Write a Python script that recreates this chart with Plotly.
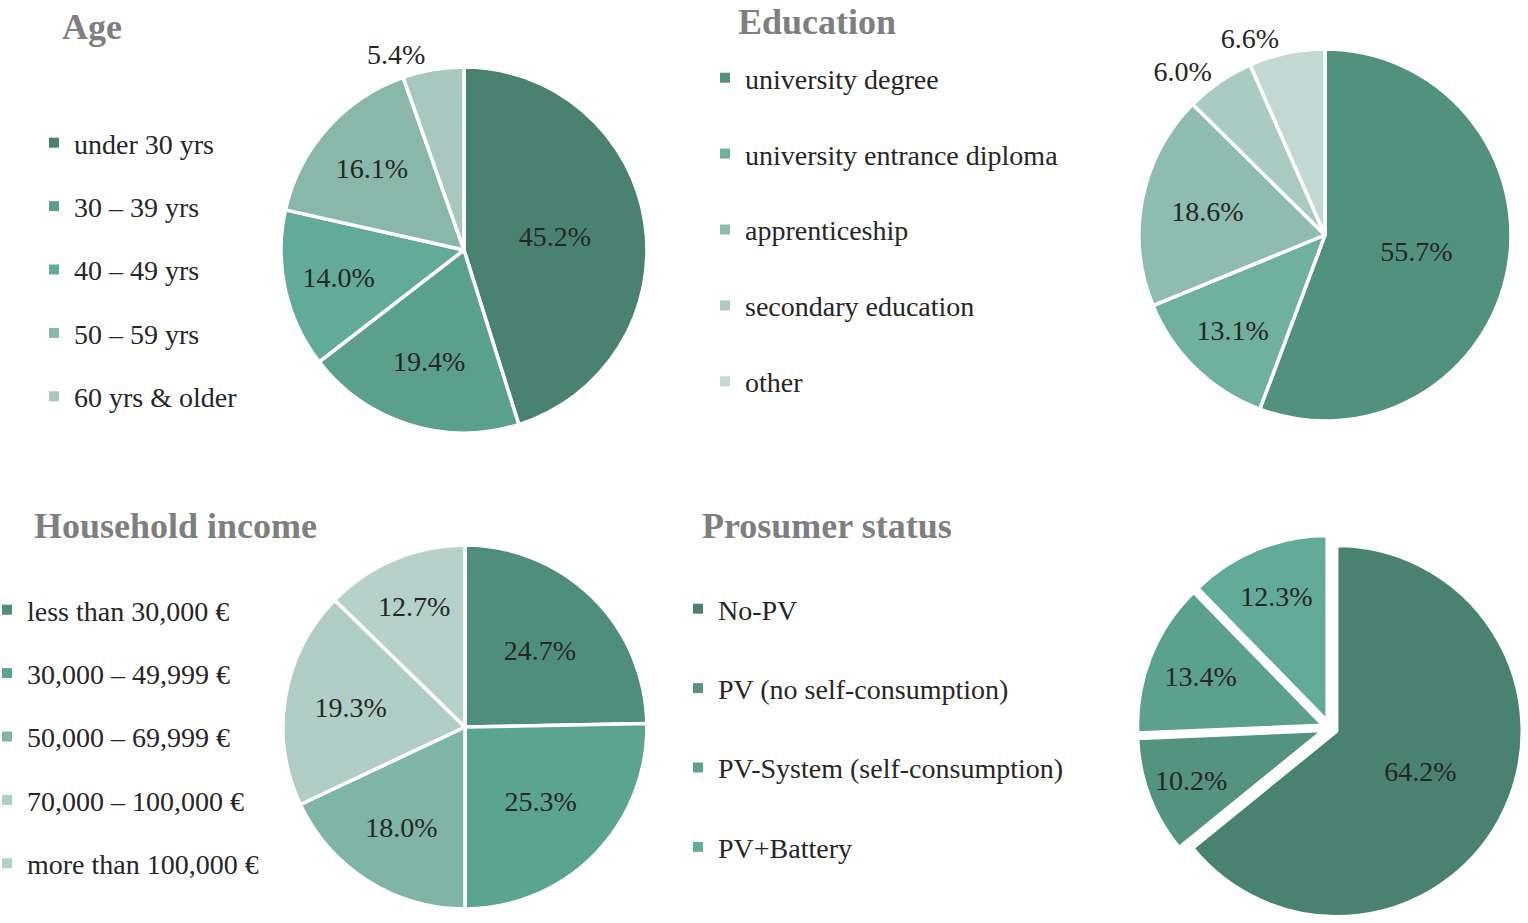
import plotly.graph_objects as go

# Age
age_labels = ['under 30 yrs', '30 – 39 yrs', '40 – 49 yrs', '50 – 59 yrs', '60 yrs & older']
age_values = [45.2, 19.4, 14.0, 16.1, 5.4]
age_colors = ['#4a8272', '#5ba08d', '#62ab98', '#89b8aa', '#a8c8bf']

# Education
edu_labels = ['university degree', 'university entrance diploma', 'apprenticeship',
              'secondary education', 'other']
edu_values = [55.7, 13.1, 18.6, 6.0, 6.6]
edu_colors = ['#51917e', '#6fb09e', '#8fbcb0', '#a9cbc1', '#c1d9d2']

# Household income
inc_labels = ['less than 30,000 €', '30,000 – 49,999 €', '50,000 – 69,999 €',
              '70,000 – 100,000 €', 'more than 100,000 €']
inc_values = [24.7, 25.3, 18.0, 19.3, 12.7]
inc_colors = ['#4f8e7c', '#5ba590', '#7fb5a7', '#b0cec5', '#b5d1c9']

# Prosumer status
pro_labels = ['No-PV', 'PV (no self-consumption)', 'PV-System (self-consumption)', 'PV+Battery']
pro_values = [64.2, 10.2, 13.4, 12.3]
pro_colors = ['#4a8272', '#54937f', '#5ba18e', '#62ab98']

FONT = 'Liberation Serif'
TXT = '#262626'
W, H = 1528, 923

fig = go.Figure()


def add_pie(labels, values, colors, dom_x, dom_y, legend, pull=0.0):
    fig.add_trace(go.Pie(
        labels=labels, values=values, sort=False, direction='clockwise', rotation=0,
        marker=dict(colors=colors, line=dict(color='white', width=3.5)),
        texttemplate='%{value:.1f}%',
        textposition=['outside' if v < 10 else 'inside' for v in values],
        insidetextorientation='horizontal',
        textfont=dict(family=FONT, size=28, color=TXT),
        domain=dict(x=dom_x, y=dom_y), pull=pull, showlegend=False,
        hoverinfo='label+percent'))
    # legend entries as separate groups so the spacing can be set
    for lab, col in zip(labels, colors):
        fig.add_trace(go.Scatter(
            x=[None], y=[None], mode='markers', name=lab,
            marker=dict(symbol='square', size=10, color=col),
            legend=legend, legendgroup=legend + lab, showlegend=True))


add_pie(age_labels, age_values, age_colors, [0.1839, 0.4234], [0.5309, 0.9274], 'legend')
add_pie(edu_labels, edu_values, edu_colors, [0.7454, 0.9889], [0.5439, 0.9469], 'legend2')
add_pie(inc_labels, inc_values, inc_colors, [0.1852, 0.4234], [0.0152, 0.4095], 'legend3')
add_pie(pro_labels, pro_values, pro_colors, [0.7441, 0.9967], [0.0022, 0.4204], 'legend4',
        pull=0.04)


def leg(x, y, gap):
    return dict(x=x / W, y=1 - y / H, xanchor='left', yanchor='middle', traceorder='grouped',
                tracegroupgap=gap, bgcolor='rgba(0,0,0,0)', borderwidth=0,
                font=dict(family=FONT, size=28, color=TXT))


titles = [('Age', 92, 27), ('Education', 817, 22), ('Household income', 175, 526),
          ('Prosumer status', 827, 526)]
for t, px_, py_ in titles:
    fig.add_annotation(text='<b>%s</b>' % t, x=px_ / W, y=1 - py_ / H,
                       xref='paper', yref='paper', xanchor='center', yanchor='middle',
                       showarrow=False, font=dict(family=FONT, size=36, color='#7f7f7f'))

fig.update_layout(
    width=W, height=H,
    margin=dict(l=0, r=0, t=0, b=0, autoexpand=False),
    paper_bgcolor='white', plot_bgcolor='rgba(0,0,0,0)',
    xaxis=dict(visible=False), yaxis=dict(visible=False),
    legend=leg(34, 269.5, 24),
    legend2=leg(705, 229.5, 36.5),
    legend3=leg(-13, 736.5, 24),
    legend4=leg(678, 728, 40),
)

fig.write_html("out.html", config={'displayModeBar': False},
               post_script="document.body.style.margin='0px';")
